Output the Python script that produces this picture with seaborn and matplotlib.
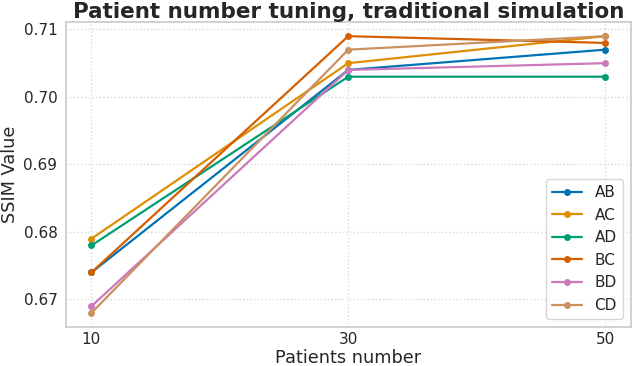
import pandas as pd
import numpy as np
import matplotlib.pyplot as plt
import seaborn as sns

# data
patients = [10, 30, 50]
ab = [0.674, 0.704, 0.707]
ac = [0.679, 0.705, 0.709]
ad = [0.678, 0.703, 0.703]
bc = [0.674, 0.709, 0.708]
bd = [0.669, 0.704, 0.705]
cd = [0.668, 0.707, 0.709]
pairs = ["AB", "AC", "AD", "BC", "BD", "CD"]

series = {"AB": ab, "AC": ac, "AD": ad, "BC": bc, "BD": bd, "CD": cd}
rows = []
for name in pairs:
  for x, v in zip(patients, series[name]):
    rows.append({"Patients number": x, "SSIM Value": v, "Pair": name})
df = pd.DataFrame(rows)

sns.set_theme(style="whitegrid", rc={"grid.linestyle": ":", "grid.color": ".85"})
plt.rcParams["font.family"] = ["DejaVu Sans"]

fig, ax = plt.subplots(figsize=(6.32, 3.66), dpi=100)
sns.lineplot(data=df,
             x="Patients number",
             y="SSIM Value",
             hue="Pair",
             hue_order=pairs,
             palette="colorblind",
             marker="o",
             markersize=5,
             markeredgewidth=0,
             linewidth=1.6,
             ax=ax)

ax.set_xticks(patients)
ax.set_yticks([0.67, 0.68, 0.69, 0.70, 0.71])
ax.tick_params(axis="both", labelsize=11, length=0)
ax.tick_params(axis="x", pad=4)
ax.tick_params(axis="y", pad=6)
ax.set_xlabel("Patients number", fontsize=12.8, labelpad=1)
ax.set_ylabel("SSIM Value", fontsize=12.8, labelpad=3)
ax.set_title("Patient number tuning, traditional simulation",
             fontsize=15.5, fontweight="bold", pad=3)
ax.legend(loc="lower right", fontsize=11, title=None)

fig.subplots_adjust(left=0.104, right=0.998, top=0.939, bottom=0.107)
fig.savefig("out.png", dpi=100)
